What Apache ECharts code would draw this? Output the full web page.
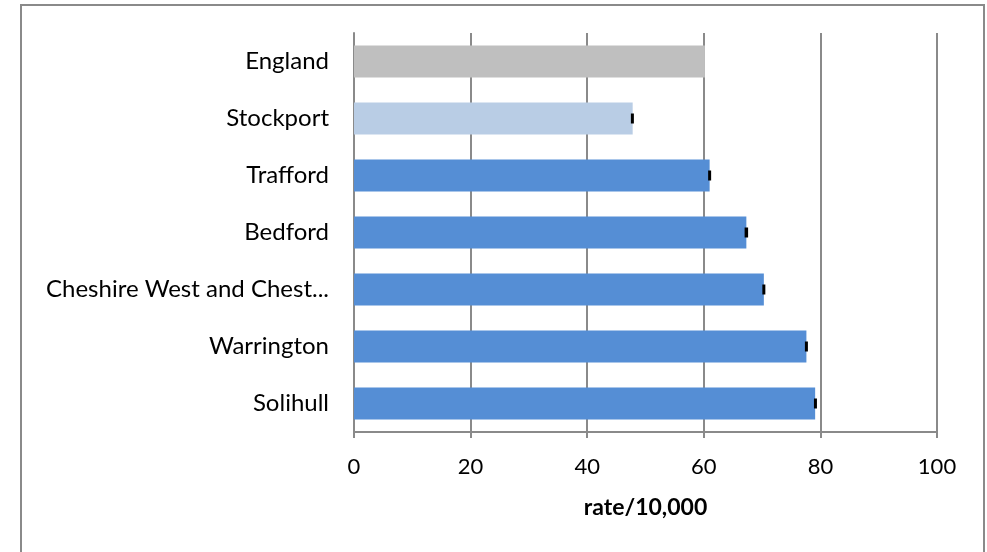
<!DOCTYPE html>
<html>
<head>
<meta charset="utf-8">
<script src="https://cdn.jsdelivr.net/npm/echarts@6/dist/echarts.min.js"></script>
<style>
  html, body { margin: 0; padding: 0; background: #fff; }
  #chart { width: 987px; height: 552px; }
</style>
</head>
<body>
<div id="chart"></div>
<script>
// areas, top to bottom
var areas = ['England', 'Stockport', 'Trafford', 'Bedford', 'Cheshire West and Chest...', 'Warrington', 'Solihull'];
var rates = [60.2, 47.8, 61.0, 67.3, 70.3, 77.6, 79.1];
// confidence limits (England has none)
var lower = [null, 47.5, 60.8, 67.0, 70.1, 77.4, 78.9];
var upper = [null, 48.0, 61.2, 67.6, 70.5, 77.8, 79.4];
var barColors = ['#bfbfbf', '#b9cde5', '#558ed5', '#558ed5', '#558ed5', '#558ed5', '#558ed5'];
var xTicks = [0, 20, 40, 60, 80, 100];

var chart = echarts.init(document.getElementById('chart'));
var font = 'Lato, "Open Sans", sans-serif';

var errData = [];
for (var i = 0; i < areas.length; i++) {
	if (lower[i] != null) errData.push([i, lower[i], upper[i]]);
}

var option = {
	animation: false,
	graphic: [{
		type: 'rect',
		shape: { x: 21, y: 5, width: 963, height: 560 },
		style: { fill: 'none', stroke: '#8a8a8a', lineWidth: 2 },
		silent: true
	}],
	grid: { left: 354, right: 50, top: 33, bottom: 120 },
	xAxis: {
		type: 'value',
		min: xTicks[0],
		max: xTicks[xTicks.length - 1],
		interval: 20,
		name: 'rate/10,000',
		nameLocation: 'middle',
		nameGap: 64,
		nameTextStyle: { fontFamily: font, fontSize: 23, fontWeight: 'bold', color: '#000' },
		axisLine: { show: true, lineStyle: { color: '#8a8a8a', width: 2 } },
		axisTick: { show: true, length: 6, lineStyle: { color: '#8a8a8a', width: 2 } },
		axisLabel: { fontFamily: font, fontSize: 22, color: '#000', margin: 24 },
		splitLine: { show: true, lineStyle: { color: '#8a8a8a', width: 2 } }
	},
	yAxis: {
		type: 'category',
		inverse: true,
		data: areas,
		axisLine: { show: true, lineStyle: { color: '#8a8a8a', width: 2 } },
		axisTick: { show: false },
		axisLabel: { fontFamily: font, fontSize: 24, color: '#000', margin: 25 }
	},
	series: [{
		type: 'bar',
		barWidth: '56%',
		data: rates.map(function (v, i) {
			return { value: v, itemStyle: { color: barColors[i] } };
		})
	}, {
		type: 'custom',
		data: errData,
		encode: { x: [1, 2], y: 0 },
		z: 10,
		renderItem: function (params, api) {
			var lo = api.coord([api.value(1), api.value(0)]);
			var hi = api.coord([api.value(2), api.value(0)]);
			var w = Math.max(hi[0] - lo[0], 3);
			var cx = (lo[0] + hi[0]) / 2;
			return {
				type: 'rect',
				shape: { x: cx - w / 2, y: lo[1] - 5, width: w, height: 10 },
				style: { fill: '#000' }
			};
		}
	}]
};

chart.setOption(option);
</script>
</body>
</html>
